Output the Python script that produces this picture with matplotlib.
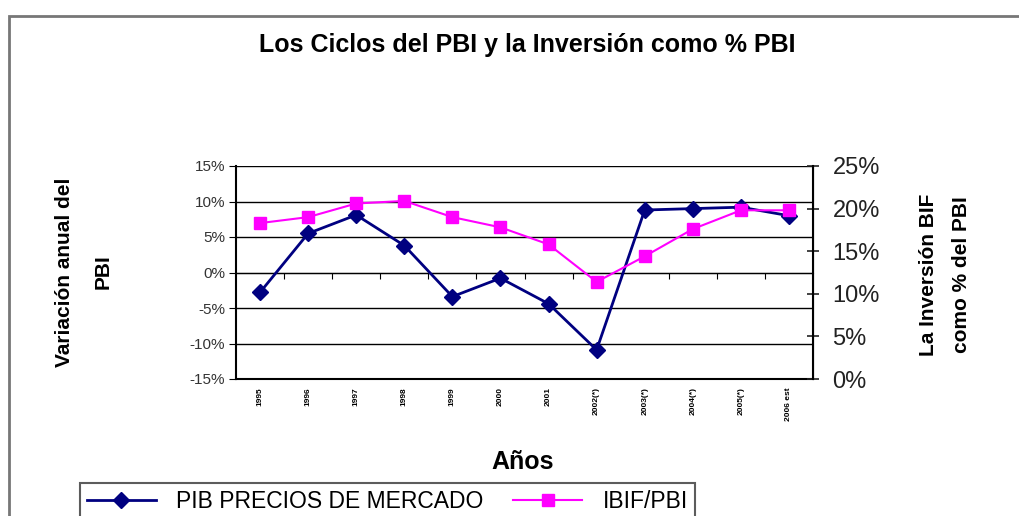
import matplotlib.pyplot as plt
from matplotlib.patches import Rectangle
from matplotlib.ticker import FuncFormatter, MultipleLocator

# Data
years = ['1995', '1996', '1997', '1998', '1999', '2000', '2001',
         '2002(*)', '2003(*)', '2004(*)', '2005(*)', '2006 est']
pbi_var = [-2.8, 5.5, 8.1, 3.8, -3.4, -0.8, -4.4, -10.9, 8.8, 9.0, 9.2, 8.0]
ibif_pbi = [18.3, 19.0, 20.6, 20.9, 19.0, 17.8, 15.8, 11.4, 14.4, 17.6, 19.8, 19.8]

plt.rcParams['font.family'] = ['Liberation Sans', 'DejaVu Sans']

fig = plt.figure(figsize=(10.2, 5.16), dpi=100)
ax = fig.add_axes([236 / 1020, 1 - 379 / 516, 577 / 1020, 213 / 516])
ax2 = ax.twinx()

x = list(range(len(years)))

# left axis: PBI variation
ax.plot(x, pbi_var, color='#000080', lw=2, marker='D', ms=8,
        label='PIB PRECIOS DE MERCADO', zorder=3)
ax.set_xlim(-0.5, len(years) - 0.5)
ax.set_ylim(-15, 15)
ax.yaxis.set_major_locator(MultipleLocator(5))
ax.yaxis.set_major_formatter(FuncFormatter(lambda v, p: f'{v:.0f}%'))
ax.grid(axis='y', color='black', lw=1)
ax.tick_params(axis='y', labelsize=11, length=5, color='black', pad=3)
for t in ax.get_yticklabels():
    t.set_color('#333333')

# category axis crossing at 0
ax.spines['bottom'].set_position(('data', 0))
ax.set_xticks([i + 0.5 for i in x[:-1]])
ax.set_xticklabels([])
ax.tick_params(axis='x', length=4, direction='out')

sec = ax.secondary_xaxis(-15, transform=ax.transData)
sec.set_xticks(x)
sec.set_xticklabels(years, rotation=90, fontsize=6, fontweight='bold',
                    va='top', ha='center')
sec.tick_params(length=0, pad=6)
sec.spines['bottom'].set_linewidth(1.5)

# right axis: investment as % of GDP
ax2.plot(x, ibif_pbi, color='#FF00FF', lw=1.5, marker='s', ms=9,
         label='IBIF/PBI', zorder=3)
ax2.set_ylim(0, 25)
ax2.yaxis.set_major_locator(MultipleLocator(5))
ax2.yaxis.set_major_formatter(FuncFormatter(lambda v, p: f'{v:.0f}%'))
ax2.tick_params(axis='y', labelsize=17, length=8, direction='inout',
                colors='#222222', width=1.2, pad=10)
for s in ['top', 'bottom', 'left']:
    ax2.spines[s].set_visible(False)
ax2.spines['right'].set_linewidth(1.5)
ax.spines['left'].set_linewidth(1.5)
ax.spines['top'].set_visible(False)

# texts
fig.text(0.517, 0.913, 'Los Ciclos del PBI y la Inversión como % PBI',
         ha='center', va='center', fontsize=18, fontweight='bold')
fig.text(0.512, 0.105, 'Años', ha='center', va='center',
         fontsize=18, fontweight='bold')
fig.text(84 / 1020, 1 - 272 / 516, 'Variación anual del\nPBI', rotation=90,
         ha='center', va='center', fontsize=15, fontweight='bold',
         multialignment='center', linespacing=2.3)
fig.text(945 / 1020, 1 - 275 / 516, 'La Inversión BIF\ncomo % del PBI',
         rotation=90, ha='center', va='center', fontsize=15,
         fontweight='bold', multialignment='center', linespacing=1.95)

# legend
h1, l1 = ax.get_legend_handles_labels()
h2, l2 = ax2.get_legend_handles_labels()
leg = fig.legend(h1 + h2, l1 + l2, loc='upper left',
                 bbox_to_anchor=(80 / 1020, 1 - 483 / 516), ncol=2,
                 fontsize=16.5, fancybox=False, edgecolor='#333333',
                 handlelength=3.0, handletextpad=0.9, columnspacing=1.3,
                 borderpad=0.3, borderaxespad=0)
leg.get_frame().set_linewidth(1.5)

# outer chart frame
fig.patches.append(Rectangle((9 / 1020, -0.1), 1.2, 1 - 16 / 516 + 0.1,
                             transform=fig.transFigure, fill=False,
                             edgecolor='#777777', lw=2))

fig.savefig('out.png', dpi=100)
